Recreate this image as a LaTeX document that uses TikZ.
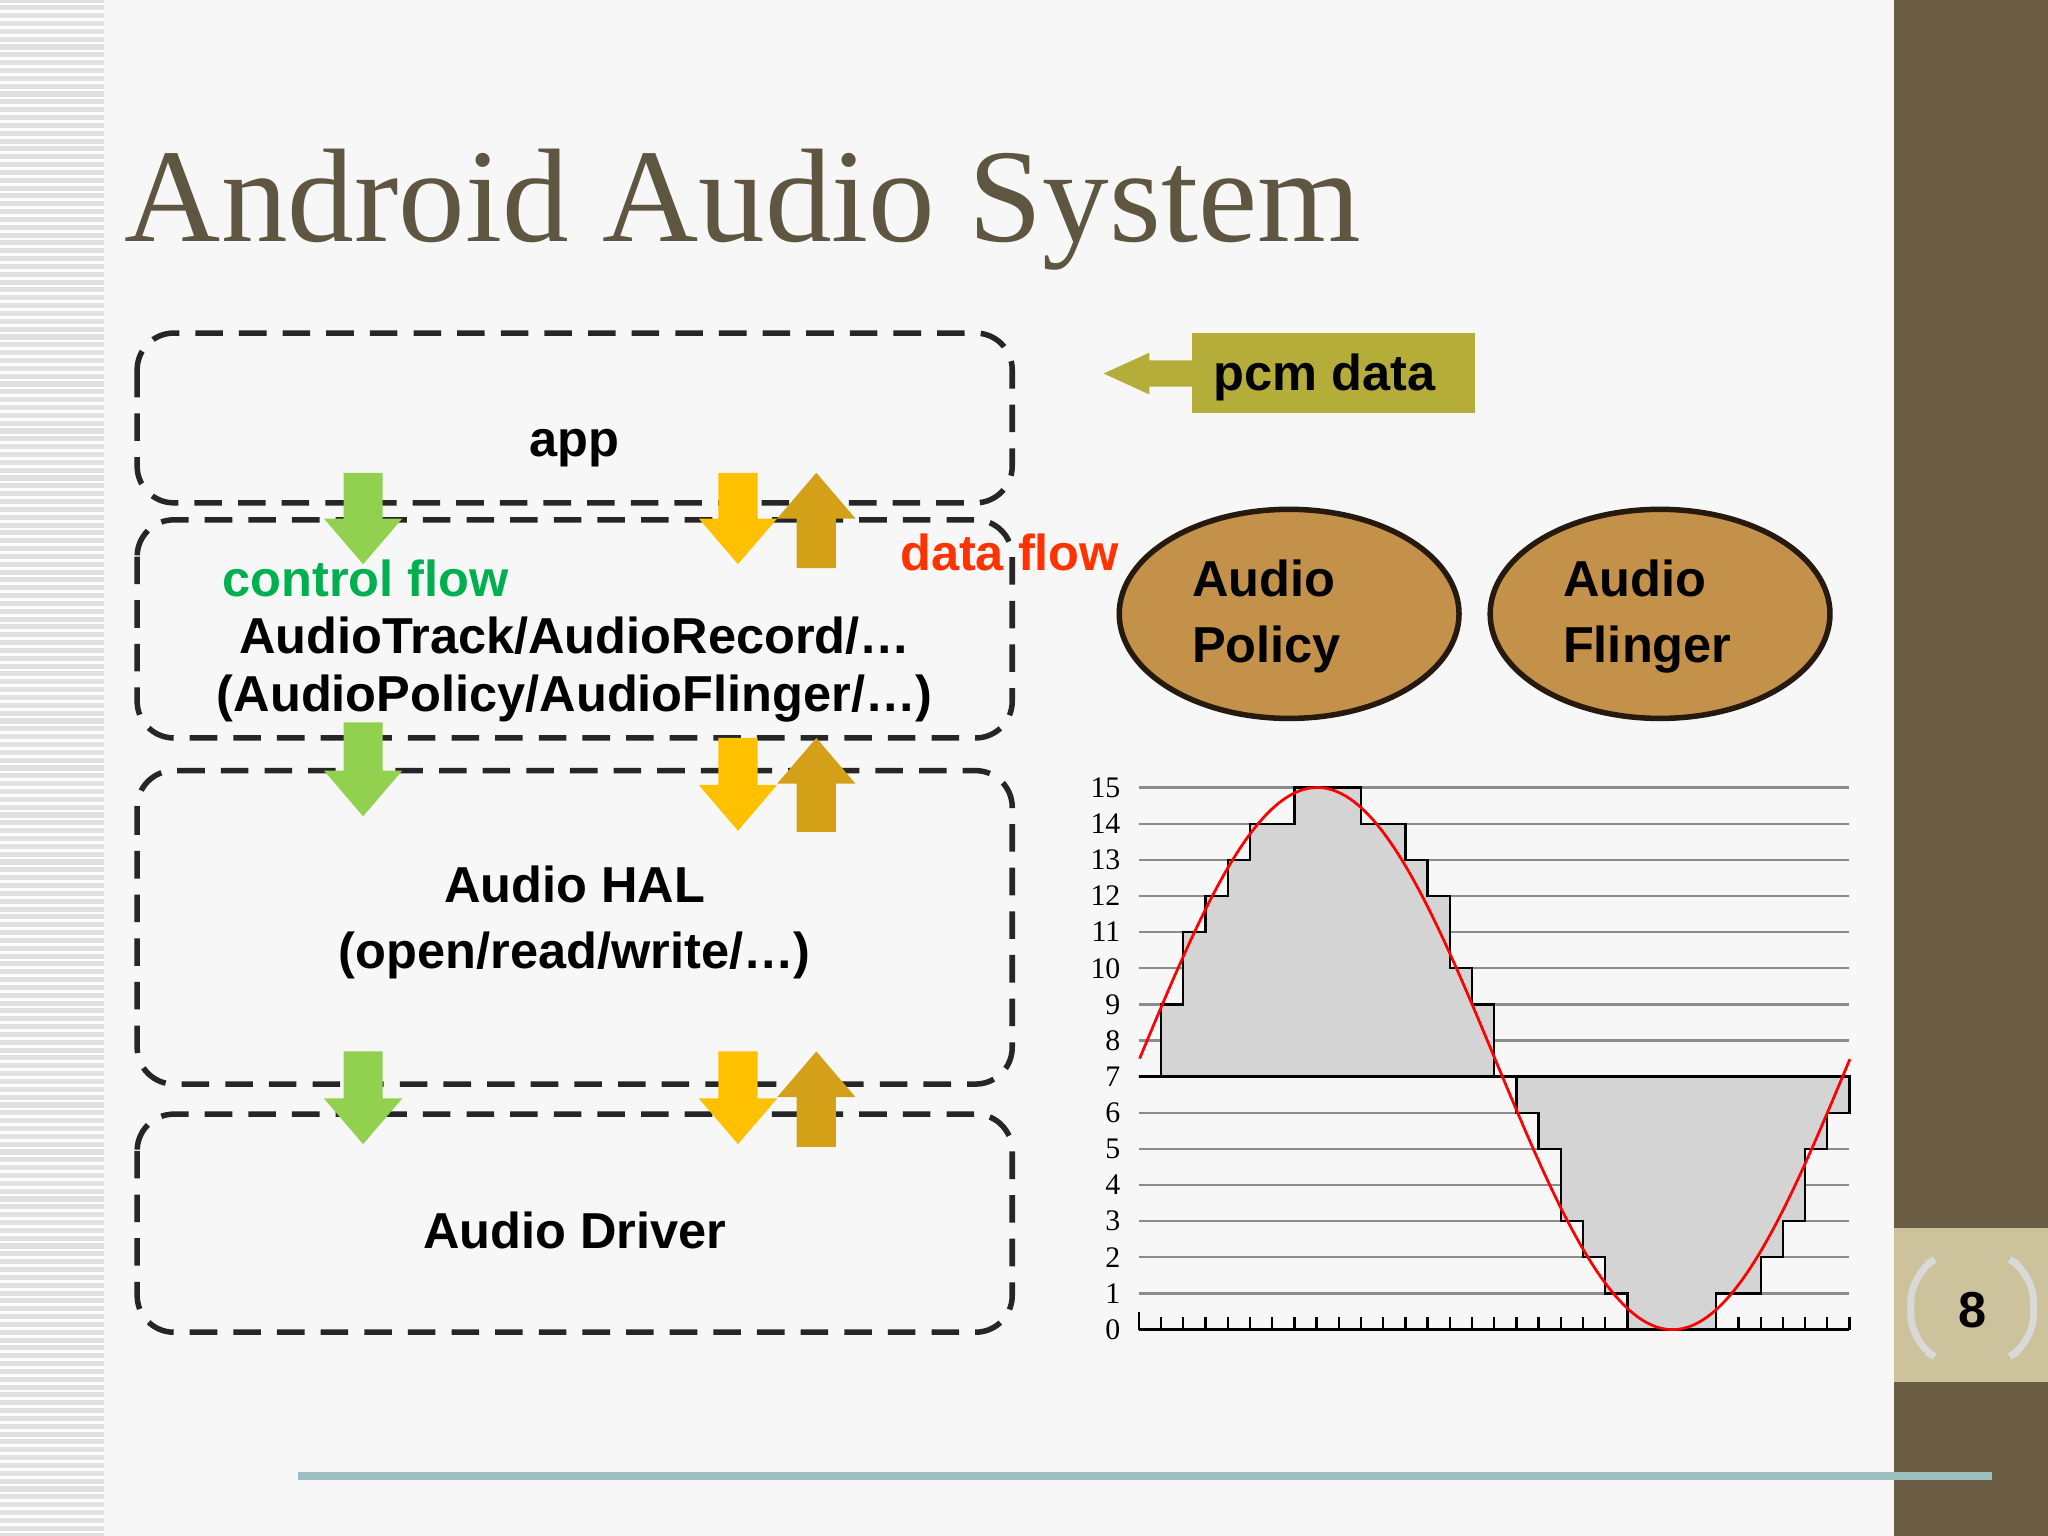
\documentclass[tikz,border=0pt]{standalone}
\usepackage{fontspec}
\setmainfont{Liberation Serif}
\newfontfamily\arialf{Liberation Sans}
\definecolor{titlec}{HTML}{5E5640}
\definecolor{sidec}{HTML}{6B5E45}
\definecolor{numc}{HTML}{CCC29C}
\definecolor{linec}{HTML}{9DBFBF}
\definecolor{greenc}{HTML}{92D050}
\definecolor{yelc}{HTML}{FFC000}
\definecolor{goldc}{HTML}{D4A017}
\definecolor{pcmc}{HTML}{B5AD3A}
\definecolor{ellc}{HTML}{C4914A}
\definecolor{cfc}{HTML}{00B050}
\definecolor{dfc}{HTML}{FF3300}
\tikzset{
  lay/.style={draw=black!85,line width=1.2pt,dash pattern=on 6pt off 3.5pt,rounded corners=8pt},
  lbl/.style={font=\arialf\bfseries\fontsize{11}{13.5}\selectfont,align=center,inner sep=0},
  ell/.style={ellipse,draw=black!80!brown,line width=1.2pt,fill=ellc,minimum width=2.6cm,minimum height=1.6cm,inner sep=0},
}
\usetikzlibrary{shapes.geometric}
\newcommand\bardown[4]{\fill[#4] (#1-15,#2)--(#1+15,#2)--(#1+15,#3-35)--(#1+30,#3-35)--(#1,#3)--(#1-30,#3-35)--(#1-15,#3-35)--cycle;}
\newcommand\barup[4]{\fill[#4] (#1-15,#3)--(#1+15,#3)--(#1+15,#2+35)--(#1+30,#2+35)--(#1,#2)--(#1-30,#2+35)--(#1-15,#2+35)--cycle;}
\begin{document}
\begin{tikzpicture}[x=0.01cm,y=-0.01cm]
\useasboundingbox (0,0) rectangle (1568,1176);
\fill[white!97!black] (0,0) rectangle (1568,1176);
% left stripes
\fill[black!12] (0,0) rectangle (80,1176);
\foreach \i in {0,...,195} \draw[white,line width=0.6pt] (0,\i*6+3) -- (80,\i*6+3);
% right column
\fill[sidec] (1450,0) rectangle (1568,1176);
\fill[numc] (1450,940) rectangle (1568,1058);
\draw[white!85!black,line width=1.5pt,rounded corners=6pt] (1475,968) -- (1463,975) -- (1463,1028) -- (1475,1035);
\draw[white!85!black,line width=1.5pt,rounded corners=6pt] (1545,968) -- (1557,975) -- (1557,1028) -- (1545,1035);
\node[font=\arialf\bfseries\fontsize{11}{13}\selectfont] (pg) at (1510,1003) {8};
% bottom line
\draw[linec,line width=1.8pt] (228,1130) -- (1525,1130);
% title
\node[anchor=base west,inner sep=0,text=titlec,font=\fontsize{29}{34}\selectfont] (title) at (95,185) {Android Audio System};
% layer boxes
\draw[lay] (105,255) rectangle (775,385);
\draw[lay] (105,398) rectangle (775,565);
\draw[lay] (105,590) rectangle (775,830);
\draw[lay] (105,853) rectangle (775,1020);
\node[lbl] (app) at (440,343) {app};
\node[lbl,text=cfc] (cf) at (280,443) {control flow};
\node[lbl] (at) at (440,487) {AudioTrack/AudioRecord/…};
\node[lbl] (ap) at (440,535) {(AudioPolicy/AudioFlinger/…)};
\node[lbl] (hal) at (440,706) {Audio HAL\\[0.9pt](open/read/write/…)};
\node[lbl] (drv) at (440,942) {Audio Driver};
\node[lbl,text=dfc] (df) at (773,423) {data flow};
% arrows
\bardown{278}{362}{432}{greenc}
\bardown{278}{553}{625}{greenc}
\bardown{278}{805}{876}{greenc}
\bardown{565}{362}{432}{yelc}
\bardown{565}{565}{636}{yelc}
\bardown{565}{805}{876}{yelc}
\barup{625}{362}{435}{goldc}
\barup{625}{565}{637}{goldc}
\barup{625}{805}{878}{goldc}
% pcm data
\fill[pcmc] (913,255) rectangle (1129,316);
\fill[pcmc] (913,276)--(880,276)--(880,270)--(845,286)--(880,302)--(880,296)--(913,296)--cycle;
\node[lbl] (pcm) at (1014,289) {pcm data};
% ellipses
\node[ell] (pol) at (987,470) {};
\node[lbl,align=left,anchor=west] at (912,472) {Audio\\[1pt]Policy};
\node[ell] (fl) at (1271,470) {};
\node[lbl,align=left,anchor=west] at (1196,472) {Audio\\[1pt]Flinger};
% chart
\begin{scope}[shift={(0,1018)},yscale=-27.67]
\foreach \v in {0,...,15}{
  \draw[black!45,line width=0.5pt] (872,\v) -- (1416,\v);
  \node[anchor=east,font=\fontsize{6.5}{7}\selectfont,inner sep=1pt] at (862,\v) {\v};
}
\draw[black,line width=0.8pt] (872,0) -- (1416,0);
\foreach \i in {0,...,32} \draw[black,line width=0.5pt] (872+17*\i,0) -- (872+17*\i,0.36);
\draw[black,line width=0.5pt] (872,0) -- (872,0.5);
\draw[fill=black!17,line width=0.5pt] (872,7)--(889,7)--(889,9)--(906,9)--(906,11)--(923,11)--(923,12)--(940,12)--(940,13)--(957,13)--(957,14)--(991,14)--(991,15)--(1042,15)--(1042,14)--(1076,14)--(1076,13)--(1093,13)--(1093,12)--(1110,12)--(1110,10)--(1127,10)--(1127,9)--(1144,9)--(1144,7)--cycle;
\draw[fill=black!17,line width=0.5pt] (1144,7)--(1161,7)--(1161,6)--(1178,6)--(1178,5)--(1195,5)--(1195,3)--(1212,3)--(1212,2)--(1229,2)--(1229,1)--(1246,1)--(1246,0)--(1314,0)--(1314,1)--(1348,1)--(1348,2)--(1365,2)--(1365,3)--(1382,3)--(1382,5)--(1399,5)--(1399,6)--(1416,6)--(1416,7)--cycle;
\draw[black,line width=0.8pt] (872,7) -- (1416,7);
\draw[red,line width=0.6pt,xshift=8.72cm] plot[domain=0:5.44,samples=120,smooth] (\x*100,{7.5+7.5*sin(360*\x/5.44)});
\end{scope}
\end{tikzpicture}
\end{document}
